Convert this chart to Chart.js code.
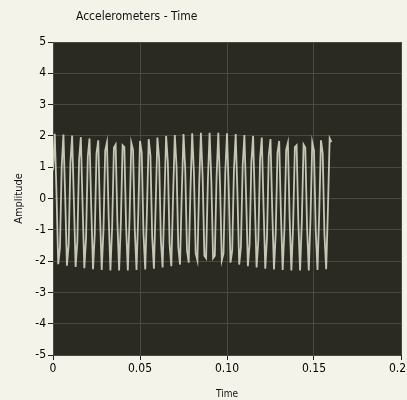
<!DOCTYPE html>
<html>
<head>
<meta charset="utf-8">
<script src="https://cdn.jsdelivr.net/npm/chart.js@4"></script>
<style>
  html, body { margin: 0; padding: 0; background: #f4f3ea; }
  #wrap { width: 407px; height: 400px; }
</style>
</head>
<body>
<div id="wrap"><canvas id="accelChart"></canvas></div>
<script>
const chartTitle = 'Accelerometers - Time';
const xTitle = 'Time';
const yTitle = 'Amplitude';
const xTicks = [0, 0.05, 0.1, 0.15, 0.2];
const yTicks = [-5, -4, -3, -2, -1, 0, 1, 2, 3, 4, 5];

// sample times (s), one reading per ms
const sampleStep = 0.001;
// accelerometer readings
const amplitude = [
  0.90, 2.07, 0.19, -2.10, -1.58,   1.02, 2.04, 0.06, -2.15, -1.48,
  1.13, 2.01, -0.08, -2.19, -1.37,  1.24, 1.96, -0.21, -2.23, -1.26,
  1.34, 1.92, -0.34, -2.26, -1.14,  1.44, 1.86, -0.48, -2.28, -1.02,
  1.53, 1.79, -0.61, -2.30, -0.90,  1.62, 1.72, -0.74, -2.30, -0.77,
  1.70, 1.64, -0.87, -2.30, -0.64,  1.78, 1.55, -0.99, -2.28, -0.51,
  1.84, 1.46, -1.11, -2.27, -0.38,  1.90, 1.37, -1.23, -2.24, -0.24,
  1.95, 1.26, -1.34, -2.20, -0.11,  2.00, 1.16, -1.45, -2.16, 0.03,
  2.03, 1.04, -1.55, -2.11, 0.16,   2.06, 0.93, -1.65, -2.05, 0.29,
  2.08, 0.81, -1.75, -1.98, 0.43,   2.10, 0.68, -1.83, -1.91, 0.55,
  2.10, 0.55, -1.91, -1.83, 0.68,   2.10, 0.43, -1.98, -1.75, 0.81,
  2.08, 0.29, -2.05, -1.65, 0.93,   2.06, 0.16, -2.11, -1.55, 1.04,
  2.03, 0.03, -2.16, -1.45, 1.16,   2.00, -0.11, -2.20, -1.34, 1.26,
  1.95, -0.24, -2.24, -1.23, 1.37,  1.90, -0.38, -2.27, -1.11, 1.46,
  1.84, -0.51, -2.28, -0.99, 1.55,  1.78, -0.64, -2.30, -0.87, 1.64,
  1.70, -0.77, -2.30, -0.74, 1.72,  1.62, -0.90, -2.30, -0.61, 1.79,
  1.53, -1.02, -2.28, -0.48, 1.86,  1.44, -1.14, -2.26, -0.34, 1.92,
  1.80
];

const points = amplitude.map((v, i) => ({ x: i * sampleStep, y: v }));

const FONT = '"DejaVu Sans Condensed", "DejaVu Sans", sans-serif';

// dark plot background + title text, LabVIEW style
const graphFrame = {
  id: 'graphFrame',
  beforeDraw(chart) {
    const { ctx, chartArea: a } = chart;
    ctx.save();
    ctx.fillStyle = '#2a2a23';
    ctx.fillRect(a.left, a.top, a.right - a.left, a.bottom - a.top);
    ctx.restore();
  },
  afterDraw(chart) {
    const ctx = chart.ctx;
    ctx.save();
    ctx.fillStyle = '#111';
    ctx.font = '12px ' + FONT;
    ctx.textBaseline = 'middle';
    ctx.fillText(chartTitle, 76, 17);
    ctx.restore();
  }
};

const ctx = document.getElementById('accelChart').getContext('2d');
const chart = new Chart(ctx, {
  type: 'line',
  data: {
    datasets: [{
      label: 'Accelerometer',
      data: points,
      borderColor: '#c4c7b4',
      borderWidth: 1.8,
      pointRadius: 0,
      tension: 0,
      fill: false
    }]
  },
  options: {
    responsive: true,
    maintainAspectRatio: false,
    animation: false,
    layout: { padding: { top: 42, right: 6, left: 13, bottom: 0 } },
    plugins: {
      legend: { display: false },
      tooltip: { enabled: false }
    },
    scales: {
      x: {
        type: 'linear',
        min: 0,
        max: 0.2,
        afterBuildTicks: (s) => { s.ticks = xTicks.map(v => ({ value: v })); },
        afterFit: (s) => { s.height = 45; s.paddingLeft = 0; s.paddingRight = 0; },
        grid: { color: '#4a4b40', tickColor: '#222', tickLength: 5, drawTicks: true },
        border: { display: false },
        ticks: {
          color: '#000',
          padding: 2,
          maxRotation: 0,
          font: { family: FONT, size: 12 }
        },
        title: {
          display: true,
          text: xTitle,
          color: '#111',
          padding: { top: 0, bottom: 0 },
          font: { family: FONT, size: 10 }
        }
      },
      y: {
        min: -5,
        max: 5,
        afterBuildTicks: (s) => { s.ticks = yTicks.map(v => ({ value: v })); },
        afterFit: (s) => { s.width = 40; s.paddingTop = 0; s.paddingBottom = 0; },
        grid: { color: '#4a4b40', tickColor: '#222', tickLength: 5, drawTicks: true },
        border: { display: false },
        ticks: {
          color: '#000',
          padding: 2,
          font: { family: FONT, size: 12 }
        },
        title: {
          display: true,
          text: yTitle,
          color: '#111',
          padding: { top: 0, bottom: 0 },
          font: { family: FONT, size: 11 }
        }
      }
    }
  },
  plugins: [graphFrame]
});
</script>
</body>
</html>
